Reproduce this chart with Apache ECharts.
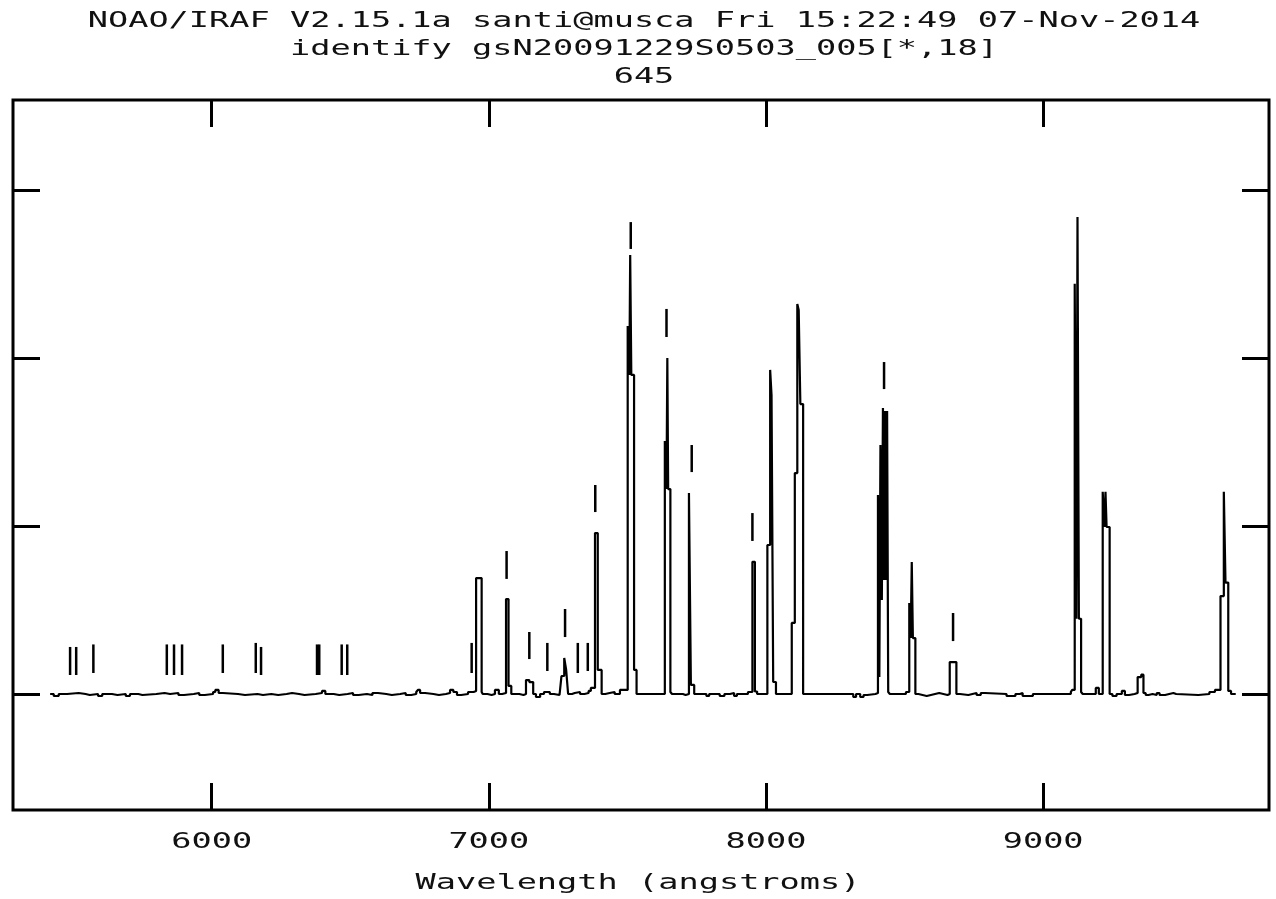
<!DOCTYPE html>
<html>
<head>
<meta charset="utf-8">
<script src="https://cdn.jsdelivr.net/npm/echarts@6/dist/echarts.min.js"></script>
<style>
  body { margin: 0; background: #fff; }
  #main { width: 1276px; height: 899px; }
</style>
</head>
<body>
<div id="main"></div>
<script>
// titre IRAF
var titleLines = [
  'NOAO/IRAF V2.15.1a santi@musca Fri 15:22:49 07-Nov-2014',
  'identify gsN20091229S0503_005[*,18]',
  '645'
]
var xName = 'Wavelength (angstroms)'
var xTickValues = [6000, 7000, 8000, 9000]
var yTickValues = [0, 10000, 20000, 30000]

// spectre (valeur tenue a partir de chaque longueur d'onde)
var wavelength = [
  5417, 5430, 5448, 5478, 5520, 5545, 5560, 5590, 5605, 5640, 5660, 5690, 5705, 5735, 5750, 5800,
  5830, 5850, 5880, 5900, 5935, 5955, 5975, 6005, 6013, 6025, 6040, 6095, 6120, 6165, 6185, 6215,
  6240, 6270, 6290, 6315, 6335, 6375, 6398, 6410, 6440, 6460, 6490, 6510, 6530, 6560, 6580, 6600,
  6630, 6650, 6680, 6700, 6720, 6738, 6744, 6752, 6770, 6800, 6820, 6845, 6860, 6872, 6885, 6900,
  6925, 6945, 6954, 6962, 6965, 6974, 6978, 6995, 7010, 7022, 7036, 7048, 7062, 7071, 7081, 7110,
  7125, 7134, 7146, 7160, 7170, 7185, 7199, 7220, 7235, 7255, 7262, 7272, 7279, 7286, 7300, 7310,
  7329, 7345, 7360, 7368, 7383, 7393, 7407, 7420, 7436, 7454, 7473, 7501, 7507, 7510, 7514, 7524,
  7533, 7635, 7641, 7644, 7647, 7655, 7661, 7700, 7710, 7722, 7729, 7741, 7785, 7795, 7833, 7850,
  7870, 7885, 7895, 7935, 7951, 7960, 7968, 8005, 8015, 8020, 8026, 8036, 8093, 8104, 8113, 8118,
  8124, 8134, 8315, 8325, 8340, 8352, 8365, 8395, 8404, 8409, 8413, 8418, 8422, 8426, 8430, 8434,
  8437, 8441, 8447, 8505, 8517, 8522, 8526, 8530, 8539, 8550, 8565, 8580, 8595, 8610, 8625, 8640,
  8655, 8663, 8675, 8678, 8687, 8700, 8730, 8745, 8760, 8775, 8790, 8868, 8900, 8916, 8926, 8963,
  9100, 9105, 9114, 9120, 9124, 9129, 9137, 9143, 9190, 9201, 9215, 9221, 9225, 9229, 9240, 9250,
  9265, 9284, 9295, 9310, 9330, 9341, 9354, 9362, 9370, 9380, 9395, 9410, 9420, 9440, 9455, 9470,
  9480, 9560, 9600, 9620, 9640, 9652, 9658, 9668, 9678, 9695
]
var counts = [
  0, -120, 0, 60, 0, -60, 0, -120, 0, -60, 0, -120, 0, -60, 0, 60,
  0, 60, -60, 0, 60, -60, 0, 120, 240, 60, 0, -60, 0, -60, 0, -60,
  0, 60, 0, -60, 0, 60, 180, 0, -60, 0, 60, -60, 0, -60, 60, 0,
  -60, 0, 60, -60, 0, 120, 240, 60, 0, -60, 0, 60, 240, 120, -60, 0,
  120, 180, 6900, 6800, 6900, 120, 0, -60, 0, 240, 0, 60, 5650, 480, 0, -60,
  0, 830, 710, 0, -180, 0, 120, 0, -60, 0, 1070, 2140, 1430, 0, 60, 120,
  0, 60, 180, 360, 9580, 1430, 0, 60, 120, 0, 240, 21900, 18990, 26130, 18990, 1430,
  0, 15060, 12200, 20000, 12200, 120, 0, -60, 0, 11960, 540, 0, -120, 0, -120, 0,
  60, -120, 0, 120, 7870, 150, 0, 8870, 19290, 17800, 715, 0, 4230, 13150, 23210, 22860,
  17260, 0, -180, 0, -180, -60, 0, 60, 11840, 1010, 14820, 5600, 17020, 6790, 16840, 6790,
  16840, 120, 0, 120, 5420, 3330, 7860, 3330, 0, -60, -120, -60, 0, 60, 0, -60,
  0, 1900, 1820, 1900, 0, -60, 0, 60, -60, 60, 0, -120, 0, 60, -120, 0,
  120, 240, 24420, 4480, 28390, 4480, 120, 0, 360, 0, 12040, 9940, 12040, 9940, 0, -120,
  0, 180, -60, 0, 60, 1010, 1150, 60, -60, 0, -60, 60, -60, 0, 60, 0,
  -60, 0, 120, 240, 5830, 12040, 6630, 180, 0, 0
]

// marques d'identification
var markWave = [5489, 5511, 5573, 5838, 5864, 5893, 6040, 6159, 6178, 6380, 6388, 6469, 6489, 6938,
  7064, 7146, 7211, 7275, 7321, 7357, 7384, 7512, 7641, 7732, 7951, 8426, 8675]
var markLow = [1130, 1130, 1250, 1130, 1130, 1130, 1250, 1250, 1130, 1130, 1130, 1130, 1130, 1250,
  6850, 2080, 1370, 3390, 1250, 1370, 10830, 26490, 21250, 13210, 9110, 18150, 3150]
var markHigh = [2800, 2800, 2950, 2950, 2950, 2950, 2950, 3040, 2800, 2950, 2950, 2950, 2950, 3040,
  8510, 3690, 3040, 5060, 3040, 3040, 12440, 28090, 22920, 14820, 10770, 19760, 4820]

var FONT = '21px "DejaVu Sans Mono"'
var STRETCH = 1.6

var spectrum = wavelength.map(function (w, i) { return [w, counts[i]] })
var marks = markWave.map(function (w, i) { return [w, markLow[i], markHigh[i]] })

var tick = { show: true, inside: true, length: 27, customValues: xTickValues, lineStyle: { color: '#000', width: 3 } }
var ytick = { show: true, inside: true, length: 27, customValues: yTickValues, lineStyle: { color: '#000', width: 3 } }
var noLine = { show: false, onZero: false }

var option = {
  animation: false,
  backgroundColor: '#fff',
  grid: { left: 13, right: 7, top: 100, bottom: 89, show: true, borderColor: '#000', borderWidth: 3 },
  xAxis: [
    { type: 'value', min: 5283, max: 9815, axisLine: noLine, axisTick: tick, axisLabel: { show: false }, splitLine: { show: false } },
    { type: 'value', position: 'top', min: 5283, max: 9815, axisLine: noLine, axisTick: tick, axisLabel: { show: false }, splitLine: { show: false } }
  ],
  yAxis: [
    { type: 'value', min: -6905, max: 35357, axisLine: noLine, axisTick: ytick, axisLabel: { show: false }, splitLine: { show: false } },
    { type: 'value', position: 'right', min: -6905, max: 35357, axisLine: noLine, axisTick: ytick, axisLabel: { show: false }, splitLine: { show: false } }
  ],
  series: [
    {
      type: 'line',
      step: 'end',
      data: spectrum,
      symbol: 'none',
      lineStyle: { color: '#000', width: 2.2 }
    },
    {
      type: 'custom',
      data: marks,
      encode: { x: 0, y: [1, 2] },
      renderItem: function (params, api) {
        var p1 = api.coord([api.value(0), api.value(1)])
        var p2 = api.coord([api.value(0), api.value(2)])
        return {
          type: 'line',
          shape: { x1: p1[0], y1: p1[1], x2: p2[0], y2: p2[1] },
          style: { stroke: '#000', lineWidth: 2.5 }
        }
      }
    }
  ]
}

var chart = echarts.init(document.getElementById('main'))
chart.setOption(option)

// textes (police etiree comme la police pixel d'IRAF)
function txt (s, x, y) {
  return { type: 'text', x: x, y: y, scaleX: STRETCH, style: { text: s, font: FONT, fill: '#111', align: 'center', verticalAlign: 'middle' } }
}
var texts = [txt(titleLines[0], 644, 22), txt(titleLines[1], 644, 50), txt(titleLines[2], 644, 78)]
xTickValues.forEach(function (v) {
  texts.push(txt(String(v), chart.convertToPixel({ xAxisIndex: 0 }, v), 843))
})
texts.push(txt(xName, 638, 884))
chart.setOption({ graphic: texts })
</script>
</body>
</html>
